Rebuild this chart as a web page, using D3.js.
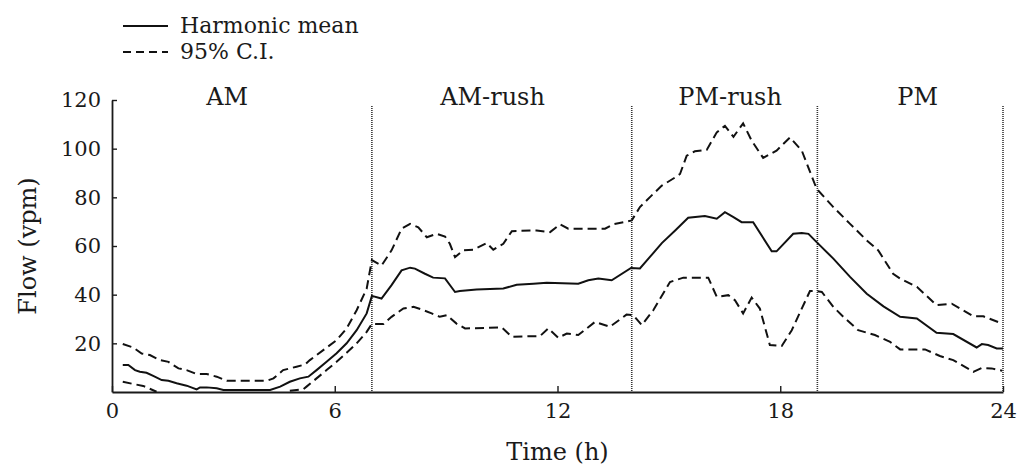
<!DOCTYPE html>
<html>
<head>
<meta charset="utf-8">
<script src="https://cdn.jsdelivr.net/npm/d3@7"></script>
<style>
  body { margin: 0; background: #fff; }
  svg text { font-family: 'DejaVu Serif', serif; fill: #1a1a1a; }
</style>
</head>
<body>
<svg id="chart" width="1023" height="466"></svg>
<script>
// harmonic mean of flow (vpm) against time of day (h)
const meanHours = [0.29, 0.44, 0.62, 0.75, 0.93, 1.11, 1.34, 1.52, 1.74, 2.01, 2.28, 2.37, 2.55, 2.82, 3.0, 4.26, 4.53, 4.79, 5.06, 5.29, 5.51, 5.78, 6.05, 6.32, 6.59, 6.86, 7.0, 7.26, 7.53, 7.8, 8.03, 8.16, 8.43, 8.65, 8.97, 9.24, 9.37, 9.82, 10.54, 10.9, 11.35, 11.71, 12.56, 12.83, 13.1, 13.46, 13.98, 14.22, 14.49, 14.81, 15.17, 15.52, 15.97, 16.29, 16.51, 16.74, 16.96, 17.27, 17.77, 17.9, 18.35, 18.58, 18.76, 18.98, 19.43, 19.88, 20.33, 20.78, 21.23, 21.68, 22.21, 22.66, 23.29, 23.43, 23.6, 23.83, 24.0];
const meanFlow = [11.1, 11.1, 9.0, 8.3, 7.9, 6.6, 4.9, 4.6, 3.6, 2.6, 1.1, 1.9, 1.9, 1.5, 0.8, 0.8, 2.2, 4.2, 5.6, 6.3, 9.0, 12.4, 15.9, 20.0, 25.4, 32.3, 39.5, 38.4, 43.9, 50.0, 51.1, 50.7, 48.6, 47.0, 46.7, 41.1, 41.5, 42.1, 42.5, 44.1, 44.5, 44.9, 44.5, 45.9, 46.6, 45.9, 51.0, 50.8, 55.5, 61.2, 66.4, 71.6, 72.3, 71.2, 73.9, 71.9, 69.8, 69.8, 57.8, 57.8, 65.0, 65.3, 65.0, 61.6, 54.8, 47.3, 40.4, 35.2, 30.9, 30.2, 24.3, 23.8, 18.3, 19.7, 19.3, 17.9, 17.9];

// upper 95% confidence bound
const upperHours = [0.29, 0.57, 0.8, 1.02, 1.29, 1.52, 1.79, 2.01, 2.28, 2.55, 2.82, 3.09, 4.17, 4.35, 4.61, 4.97, 5.2, 5.33, 5.69, 6.05, 6.32, 6.59, 6.86, 7.0, 7.26, 7.53, 7.8, 8.03, 8.25, 8.48, 8.75, 8.97, 9.1, 9.24, 9.46, 9.73, 10.09, 10.27, 10.54, 10.77, 11.44, 11.8, 12.07, 12.29, 13.28, 13.5, 14.0, 14.22, 14.49, 14.81, 15.17, 15.3, 15.48, 15.7, 16.02, 16.29, 16.51, 16.74, 17.0, 17.23, 17.54, 17.9, 18.26, 18.58, 18.98, 19.43, 19.88, 20.33, 20.64, 21.04, 21.23, 21.68, 22.21, 22.62, 23.2, 23.47, 23.96];
const upperFlow = [19.7, 18.3, 15.8, 15.2, 13.1, 12.4, 9.7, 9.0, 7.4, 7.4, 6.3, 4.6, 4.6, 5.6, 9.0, 10.4, 11.3, 13.1, 17.2, 21.3, 26.1, 33.6, 42.5, 54.2, 52.0, 58.2, 67.1, 69.1, 67.7, 63.6, 65.0, 63.9, 60.9, 55.4, 58.2, 58.5, 61.2, 58.5, 60.9, 66.1, 66.4, 65.7, 68.9, 67.1, 67.1, 68.9, 70.5, 76.0, 80.1, 84.8, 88.2, 89.6, 97.1, 98.9, 99.5, 106.7, 109.4, 104.9, 110.4, 103.3, 96.2, 99.2, 104.6, 99.2, 83.5, 76.0, 69.1, 62.3, 58.2, 48.6, 46.6, 43.2, 35.7, 36.3, 31.1, 31.1, 28.2];

// lower 95% confidence bound (null = below the axis)
const lowerHours = [0.29, 0.57, 0.84, 1.2, 3.0, 4.79, 5.15, 5.24, 5.51, 5.78, 6.05, 6.32, 6.59, 6.86, 7.0, 7.31, 7.53, 7.85, 8.12, 8.34, 8.61, 8.83, 9.02, 9.28, 9.51, 10.5, 10.77, 11.53, 11.75, 12.02, 12.25, 12.56, 13.01, 13.41, 13.86, 14.04, 14.27, 14.58, 15.03, 15.39, 16.06, 16.29, 16.6, 16.78, 17.0, 17.23, 17.45, 17.72, 18.04, 18.31, 18.8, 18.98, 19.12, 19.43, 19.7, 20.1, 20.55, 20.96, 21.23, 21.9, 22.3, 22.66, 23.2, 23.43, 23.69, 23.98];
const lowerFlow = [4.2, 3.3, 2.5, 0.1, null, 0.5, 1.1, 2.2, 5.6, 9.0, 12.4, 16.1, 20.0, 24.7, 28.0, 27.9, 30.9, 34.3, 35.0, 33.9, 32.3, 30.9, 31.6, 28.1, 26.1, 26.5, 22.7, 23.0, 26.1, 22.3, 24.0, 23.4, 28.8, 26.8, 31.8, 31.6, 27.5, 33.6, 45.2, 47.0, 47.0, 39.1, 39.8, 37.7, 32.3, 38.8, 34.3, 19.3, 18.9, 25.4, 41.5, 41.5, 41.1, 35.0, 30.9, 25.4, 23.4, 20.6, 17.5, 17.5, 14.8, 13.1, 8.3, 9.9, 9.7, 8.7];

const periodBounds = [7, 14, 19, 24];
const periodNames = ['AM', 'AM-rush', 'PM-rush', 'PM'];
const periodLabelAt = [3.1, 10.25, 16.65, 21.7];
const xTicks = [0, 6, 12, 18, 24];
const yTicks = [20, 40, 60, 80, 100, 120];

const svg = d3.select('#chart');
const m = { top: 100, right: 20, bottom: 74, left: 112 };
const W = 1023, H = 466;

const x = d3.scaleLinear().domain([0, 24]).range([m.left, W - m.right]);
const y = d3.scaleLinear().domain([0, 120]).range([H - m.bottom, m.top]);

const zip = (hs, vs) => hs.map((h, i) => ({ h, v: vs[i] }));
const line = d3.line()
  .defined(d => d.v != null)
  .x(d => x(d.h))
  .y(d => y(d.v));

// period separators
svg.append('g').selectAll('line')
  .data(periodBounds)
  .join('line')
  .attr('x1', d => x(d)).attr('x2', d => x(d))
  .attr('y1', y(117.5)).attr('y2', y(0))
  .attr('stroke', '#333').attr('stroke-width', 1.6)
  .attr('stroke-dasharray', '1,1');

svg.append('g').selectAll('text')
  .data(periodNames)
  .join('text')
  .attr('x', (d, i) => x(periodLabelAt[i]))
  .attr('y', 105)
  .attr('text-anchor', 'middle')
  .style('font-size', '24px')
  .text(d => d);

// axes
const xAxis = svg.append('g')
  .attr('transform', `translate(0,${y(0)})`)
  .call(d3.axisBottom(x).tickValues(xTicks).tickSizeInner(-6).tickSizeOuter(0).tickPadding(11));
const yAxis = svg.append('g')
  .attr('transform', `translate(${x(0)},0)`)
  .call(d3.axisLeft(y).tickValues(yTicks).tickSizeInner(-5).tickSizeOuter(0).tickPadding(11));

[xAxis, yAxis].forEach(g => {
  g.select('.domain').attr('stroke', '#1a1a1a').attr('stroke-width', 1.8);
  g.selectAll('.tick line').attr('stroke', '#1a1a1a').attr('stroke-width', 1.4);
  g.selectAll('.tick text').style('font-family', "'DejaVu Serif', serif").style('font-size', '21px').attr('fill', '#1a1a1a');
});

svg.append('text')
  .attr('x', (x(0) + x(24)) / 2).attr('y', 460)
  .attr('text-anchor', 'middle')
  .style('font-size', '24px')
  .text('Time (h)');

svg.append('text')
  .attr('transform', `translate(36,${(y(0) + y(120)) / 2}) rotate(-90)`)
  .attr('text-anchor', 'middle')
  .style('font-size', '24px')
  .text('Flow (vpm)');

// series
const series = [
  { data: zip(upperHours, upperFlow), dash: '9,5' },
  { data: zip(lowerHours, lowerFlow), dash: '9,5' },
  { data: zip(meanHours, meanFlow), dash: null },
];
svg.append('g').selectAll('path')
  .data(series)
  .join('path')
  .attr('d', d => line(d.data))
  .attr('fill', 'none')
  .attr('stroke', '#111')
  .attr('stroke-width', 2)
  .attr('stroke-dasharray', d => d.dash);

// legend
const legend = svg.append('g');
[['Harmonic mean', null, 26], ['95% C.I.', '8,5', 52]].forEach(([label, dash, ly]) => {
  legend.append('line')
    .attr('x1', 123).attr('x2', 168).attr('y1', ly).attr('y2', ly)
    .attr('stroke', '#111').attr('stroke-width', 2)
    .attr('stroke-dasharray', dash);
  legend.append('text')
    .attr('x', 180).attr('y', ly + 7)
    .style('font-size', '22px')
    .text(label);
});
</script>
</body>
</html>
